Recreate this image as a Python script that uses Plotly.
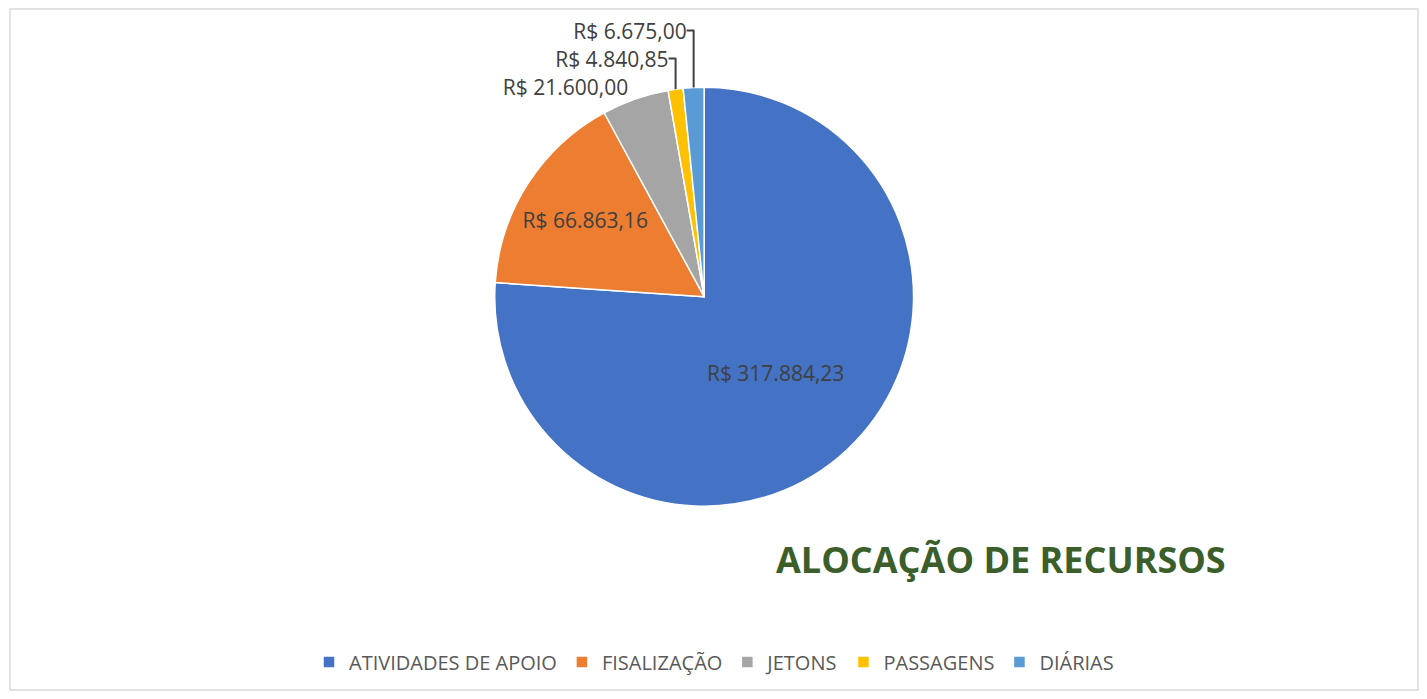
import plotly.graph_objects as go

categories = ["ATIVIDADES DE APOIO", "FISALIZAÇÃO", "JETONS", "PASSAGENS", "DIÁRIAS"]
values = [317884.23, 66863.16, 21600.00, 4840.85, 6675.00]
colors = ["#4472C4", "#ED7D31", "#A5A5A5", "#FFC000", "#5B9BD5"]
title_text = "ALOCAÇÃO DE RECURSOS"

fig = go.Figure()
fig.add_trace(go.Pie(
    labels=categories,
    values=values,
    sort=False,
    direction="clockwise",
    rotation=0,
    marker=dict(colors=colors, line=dict(color="white", width=1.5)),
    texttemplate="R$ %{value:,.2f}",
    textposition=["inside", "inside", "outside", "outside", "outside"],
    insidetextorientation="horizontal",
    insidetextfont=dict(color="#404040", size=21, family="Open Sans"),
    outsidetextfont=dict(color="#404040", size=21, family="Open Sans"),
    hoverinfo="label+value+percent",
    automargin=False,
    domain=dict(x=[0.336, 0.650], y=[0.27, 0.885]),
    showlegend=True,
))

fig.update_layout(
    width=1411, height=683,
    separators=",.",
    paper_bgcolor="white",
    plot_bgcolor="white",
    margin=dict(l=2, r=1, t=1, b=1, autoexpand=False),
    font=dict(family="Open Sans", color="#595959"),
    legend=dict(orientation="h", x=0.5, xanchor="center", y=0.041, yanchor="middle",
                font=dict(size=20, color="#595959", family="Open Sans"),
                itemwidth=30, traceorder="normal"),
    annotations=[dict(text="<b>" + title_text + "</b>", x=0.704, y=0.191,
                      xref="paper", yref="paper", xanchor="center", yanchor="middle",
                      showarrow=False,
                      font=dict(size=36, color="#3B5E2B", family="Open Sans"))],
    shapes=[dict(type="rect", xref="paper", yref="paper", x0=0, x1=1, y0=0, y1=1,
                 line=dict(color="#D9D9D9", width=1.5))],
)

fig.write_html("out.html")
